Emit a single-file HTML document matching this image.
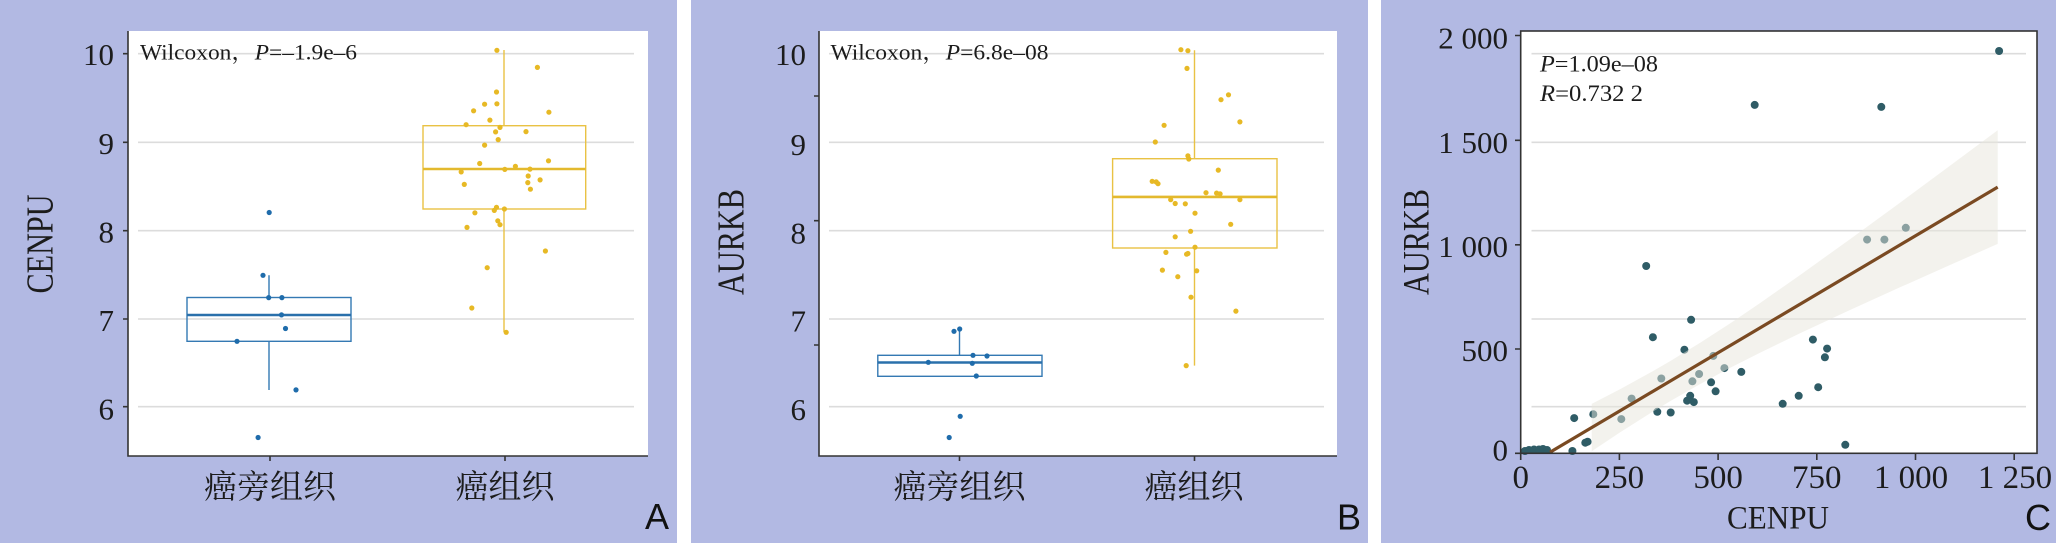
<!DOCTYPE html>
<html>
<head>
<meta charset="utf-8">
<style>
html,body{margin:0;padding:0;background:#fff;}
svg{display:block;}
.serif{font-family:"Liberation Serif","Noto Serif CJK SC",serif;fill:#1c1c1c;}
.cjk{font-family:"Liberation Serif","Noto Serif CJK SC","Noto Sans CJK SC",serif;fill:#1c1c1c;}
.sans{font-family:"Liberation Sans",sans-serif;fill:#111;}
.grid{stroke:#dcdcdc;stroke-width:1.6;}
.axis{stroke:#333;stroke-width:1.6;fill:none;}
.bb{stroke:#3479b3;stroke-width:1.4;fill:none;}
.bm{stroke:#2a70ab;stroke-width:2.6;}
.yb{stroke:#e9c244;stroke-width:1.4;fill:none;}
.ym{stroke:#e3b92e;stroke-width:2.6;}
.mk{fill:none;stroke:none;}
</style>
</head>
<body>
<svg width="2056" height="543" viewBox="0 0 2056 543" xmlns="http://www.w3.org/2000/svg">
<defs>
<marker id="mb" viewBox="-4 -4 8 8" refX="0" refY="0" markerWidth="8" markerHeight="8" markerUnits="userSpaceOnUse"><circle r="2.6" fill="#1f6cab"/></marker>
<marker id="my" viewBox="-4 -4 8 8" refX="0" refY="0" markerWidth="8" markerHeight="8" markerUnits="userSpaceOnUse"><circle r="2.6" fill="#e7b925"/></marker>
<marker id="mt" viewBox="-5 -5 10 10" refX="0" refY="0" markerWidth="10" markerHeight="10" markerUnits="userSpaceOnUse"><circle r="4" fill="#2f5c66"/></marker>
</defs>
<rect x="0" y="0" width="2056" height="543" fill="#ffffff"/>
<rect x="0" y="0" width="677" height="543" fill="#b2b9e3"/>
<rect x="691" y="0" width="677" height="543" fill="#b2b9e3"/>
<rect x="1381" y="0" width="675" height="543" fill="#b2b9e3"/>

<!-- PANEL A -->
<rect x="128" y="31" width="520" height="425" fill="#fff"/>
<path class="grid" d="M138 53.7H634M138 142.3H634M138 230.7H634M138 319H634M138 406.7H634"/>
<path class="axis" d="M128 31V456.8M127.2 456H648M123 53.7H128M123 142.3H128M123 230.7H128M123 319H128M123 406.7H128M270 456V461M505 456V461"/>
<g class="serif" font-size="31" text-anchor="end">
<text x="114" y="65">10</text>
<text x="114" y="154">9</text>
<text x="114" y="242.5">8</text>
<text x="114" y="331">7</text>
<text x="114" y="419.5">6</text>
</g>
<text class="serif" font-size="38" text-anchor="middle" textLength="99" lengthAdjust="spacingAndGlyphs" transform="translate(52.5,244) rotate(-90)">CENPU</text>
<text class="serif" x="140" y="59.5" font-size="22" textLength="217" lengthAdjust="spacingAndGlyphs">Wilcoxon，<tspan font-style="italic">P</tspan>=–1.9e–6</text>
<text class="cjk" x="270" y="498" font-size="33" text-anchor="middle">癌旁组织</text>
<text class="cjk" x="505" y="498" font-size="33" text-anchor="middle">癌组织</text>
<text class="sans" x="645" y="529" font-size="36">A</text>
<path class="bb" d="M269 275.3V297.5M269 341.3V390"/>
<rect class="bb" x="187" y="297.5" width="164" height="43.8"/>
<path class="bm" d="M187 315H351"/>
<path class="yb" d="M504 50V125.7M504 209V332"/>
<rect class="yb" x="423" y="125.7" width="162.7" height="83.3"/>
<path class="ym" d="M423 169H585.7"/>
<polyline class="mk" marker-start="url(#mb)" marker-mid="url(#mb)" marker-end="url(#mb)" points="269.2,212.5 263,275.3 268.7,297.6 281.9,297.6 281.5,314.9 285.5,328.5 237,341.3 296,389.9 258.1,437.5"/>
<polyline class="mk" marker-start="url(#my)" marker-mid="url(#my)" marker-end="url(#my)" points="496.9,50.3 537.4,67.4 496.5,92 484.6,104.2 496.9,103.8 473.6,110.8 548.9,112.2 489.9,120.1 466.1,124.7 500,127.4 495.6,131.9 526,131.6 498.2,139.6 484.6,145.1 479.7,163.5 548.5,160.8 461.2,171.9 515.4,166.3 504.8,169.4 530,169.1 528.2,176 464.3,184.4 527.8,182.6 540.1,179.9 530.4,189.2 496.5,207.3 494.3,210.4 504.4,209 474.9,212.8 497.8,220.8 500,224.7 467,227.4 545.4,251 487.2,267.7 471.8,308 506.2,332.3"/>

<!-- PANEL B -->
<rect x="819" y="31" width="518" height="425" fill="#fff"/>
<path class="grid" d="M829 53.7H1324M829 142.3H1324M829 230.7H1324M829 319H1324M829 406.7H1324"/>
<path class="axis" d="M819 31V456.8M818.2 456H1337M814 96H819M814 220.7H819M814 345H819M959.5 456V461M1194.5 456V461"/>
<g class="serif" font-size="31" text-anchor="end">
<text x="806" y="65">10</text>
<text x="806" y="155">9</text>
<text x="806" y="243.3">8</text>
<text x="806" y="331.7">7</text>
<text x="806" y="420">6</text>
</g>
<text class="serif" font-size="38" text-anchor="middle" textLength="106" lengthAdjust="spacingAndGlyphs" transform="translate(743.5,242) rotate(-90)">AURKB</text>
<text class="serif" x="830.5" y="59.5" font-size="22" textLength="218" lengthAdjust="spacingAndGlyphs">Wilcoxon，<tspan font-style="italic">P</tspan>=6.8e–08</text>
<text class="cjk" x="959.5" y="498" font-size="33" text-anchor="middle">癌旁组织</text>
<text class="cjk" x="1194" y="498" font-size="33" text-anchor="middle">癌组织</text>
<text class="sans" x="1337" y="529.5" font-size="36">B</text>
<path class="bb" d="M959.5 329V355.3"/>
<rect class="bb" x="877.8" y="355.3" width="164.2" height="21"/>
<path class="bm" d="M877.8 362.5H1042"/>
<path class="yb" d="M1194.5 50.3V158.7M1194.5 248V365.6"/>
<rect class="yb" x="1112.6" y="158.7" width="164.4" height="89.3"/>
<path class="ym" d="M1112.6 196.9H1277"/>
<polyline class="mk" marker-start="url(#mb)" marker-mid="url(#mb)" marker-end="url(#mb)" points="954,331.3 959.7,329 973,355.3 987,356 928.3,362.3 972.3,363.3 976.3,376 960.2,416.3 949.2,437.5"/>
<polyline class="mk" marker-start="url(#my)" marker-mid="url(#my)" marker-end="url(#my)" points="1180.9,49.7 1187.9,50.7 1187,68.4 1228.5,94.8 1221,99.7 1239.9,121.9 1164.1,125.3 1155.3,142 1187.9,155.9 1188.8,159 1218.3,170.1 1152.2,181.3 1156.2,181.9 1158,183.7 1206,192.7 1216.6,193.1 1220.1,193.8 1170.7,199.7 1175.2,203.5 1185.3,203.8 1239.9,199.7 1195,213.2 1230.7,224.3 1190.6,231.3 1175.2,236.8 1195,247.2 1165.9,252.4 1187.9,253.5 1186.6,254.2 1162.4,270.1 1196.7,270.8 1177.8,276.7 1191,297.2 1235.9,311.1 1186.2,365.6"/>

<!-- PANEL C -->
<rect x="1520.7" y="31" width="516.3" height="422.3" fill="#fff"/>
<path class="grid" d="M1531.5 53.7H2026M1531.5 142.3H2026M1531.5 230.7H2026M1531.5 319H2026M1531.5 406.7H2026"/>
<polyline class="mk" marker-start="url(#mt)" marker-mid="url(#mt)" marker-end="url(#mt)" points="1999.1,51 1754.7,104.9 1881.3,106.9 1905.8,227.8 1867.1,239.6 1884.4,239.6 1646.2,266 1691.1,319.8 1652.9,337.2 1812.9,339.6 1827.1,348.6 1684.4,349.7 1824.9,357.3 1713.3,355.9 1724.4,368.1 1741.3,371.9 1661.3,378.5 1699.1,374 1692.4,381.3 1711.1,382.3 1818.2,387.2 1715.6,391.3 1690.2,395.8 1798.7,395.8 1631.6,398.6 1687.1,400.7 1693.8,402.1 1782.7,403.8 1593.3,414.2 1657.3,411.8 1670.7,412.5 1574.2,418.1 1621.3,419.1 1587.6,441.7 1585.3,442.7 1845.3,444.8 1572.4,451 1525,451 1529,450 1534,449.5 1539,449.5 1543,449 1547,450"/>
<polygon fill="#e8e6dc" fill-opacity="0.5" points="1591.7,403.9 1620,389.2 1650,372.8 1670,361.2 1700,342.9 1730,323.5 1760,303.1 1800,275.1 1850,239.2 1900,202.7 1950,165.8 1997.7,130.3 1997.7,243.9 1950,265 1900,287.3 1850,310 1800,333.3 1760,352.7 1730,367.9 1700,384.1 1670,401.2 1650,413.4 1620,432.4 1591.7,451.3"/>
<path d="M1550 452.3L1997.7 187.1" stroke="#7a4a22" stroke-width="3.2"/>
<rect class="axis" x="1520.7" y="31" width="516.3" height="422.3"/>
<path class="axis" d="M1515 35.5H1520.7M1515 140.3H1520.7M1515 244.8H1520.7M1515 349H1520.7M1515 453.3H1520.7M1520.7 453.3V460M1619.4 453.3V460M1718.1 453.3V460M1816.8 453.3V460M1915.5 453.3V460M2014.2 453.3V460"/>
<g class="serif" font-size="31" text-anchor="end">
<text x="1508" y="48.5">2 000</text>
<text x="1508" y="152.8">1 500</text>
<text x="1508" y="257">1 000</text>
<text x="1508" y="361.2">500</text>
<text x="1508" y="460.5">0</text>
</g>
<g class="serif" font-size="33" text-anchor="middle">
<text x="1520.7" y="488">0</text>
<text x="1619.4" y="488">250</text>
<text x="1718.1" y="488">500</text>
<text x="1816.8" y="488">750</text>
<text x="1911" y="488">1 000</text>
<text x="2015" y="488">1 250</text>
</g>
<text class="serif" font-size="37" text-anchor="middle" textLength="106" lengthAdjust="spacingAndGlyphs" transform="translate(1428.5,242) rotate(-90)">AURKB</text>
<text class="serif" x="1778" y="528.5" font-size="33" text-anchor="middle" textLength="102" lengthAdjust="spacingAndGlyphs">CENPU</text>
<text class="serif" x="1540" y="71.7" font-size="23" textLength="118" lengthAdjust="spacingAndGlyphs"><tspan font-style="italic">P</tspan>=1.09e–08</text>
<text class="serif" x="1540" y="101" font-size="23" textLength="103" lengthAdjust="spacingAndGlyphs"><tspan font-style="italic">R</tspan>=0.732 2</text>
<text class="sans" x="2025" y="530" font-size="36">C</text>
</svg>
</body>
</html>
